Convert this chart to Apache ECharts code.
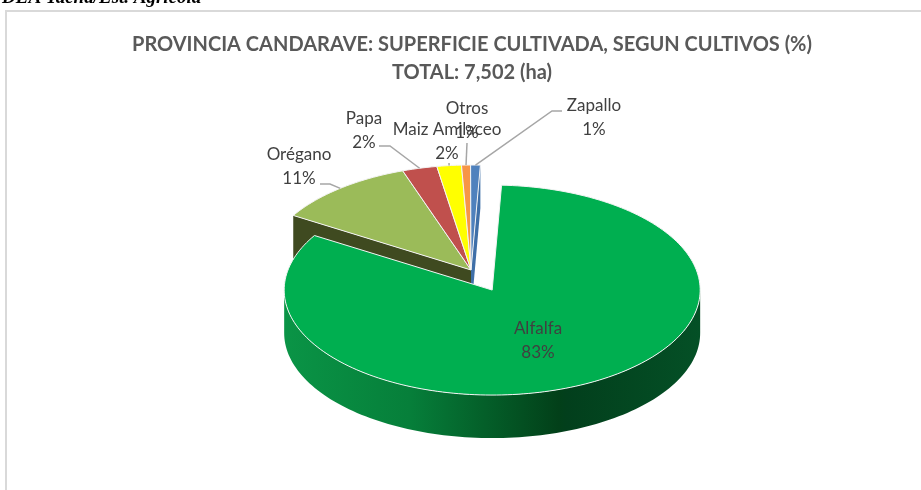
<!DOCTYPE html>
<html>
<head>
<meta charset="utf-8">
<style>
  html, body { margin: 0; padding: 0; background: #fff; }
  #chart { width: 921px; height: 490px; }
</style>
<script src="https://cdn.jsdelivr.net/npm/echarts@6/dist/echarts.min.js"></script>
</head>
<body>
<div id="chart"></div>
<script>
// drawn back to front, clockwise, so Alfalfa lands on top of the others
const categories = ['Orégano', 'Papa', 'Maiz Amilaceo', 'Otros', 'Zapallo', 'Alfalfa']
const shares = [11.0, 2.7, 1.9, 0.7, 0.75, 83.1]
const shareLabels = ['11%', '2%', '2%', '1%', '1%', '83%']
const explode = [0, 0, 0, 0, 0, 45]

const topColors = ['#9BBB59', '#C0504D', '#FFFF00', '#F79646', '#4F81BD', '#00AF50']
const sideColors = ['#3F4A20', '#5A2422', '#8A8A00', '#8A5020', '#3F6FA8', '#047A38']

// pie layout
const cx = 471
const cy = 270
const rx = 208
const ry = 105
const depth = 43
const startAngle = 301.3

// label centre and optional leader elbow points
const labelPos = [
  { x: 299, y: 155, leader: [[330, 184], [320, 184]] },
  { x: 364, y: 119, leader: [[390, 146], [379, 146]] },
  { x: 447, y: 130, leader: [[449, 163]] },
  { x: 467, y: 109, leader: [[467, 143]] },
  { x: 594, y: 106, leader: [[552, 111], [562, 111]] },
  { x: 538, y: 329, leader: null }
]

const total = shares.reduce((a, b) => a + b, 0)
const sliceAngles = []
let acc = startAngle
shares.forEach(v => {
  const span = v / total * 360
  sliceAngles.push([acc, acc + span])
  acc += span
})

// angle in degrees, clockwise from 12 o'clock
function rimPoint(a, ox, oy) {
  const t = a * Math.PI / 180
  return [ox + rx * Math.sin(t), oy - ry * Math.cos(t)]
}
function arcPoints(a0, a1, ox, oy) {
  const pts = []
  const steps = Math.max(2, Math.ceil((a1 - a0) / 1.5))
  for (let i = 0; i <= steps; i++) {
    pts.push(rimPoint(a0 + (a1 - a0) * i / steps, ox, oy))
  }
  return pts
}
function sliceOrigin(i) {
  const mid = (sliceAngles[i][0] + sliceAngles[i][1]) / 2 * Math.PI / 180
  return [cx + explode[i] * Math.sin(mid), cy - explode[i] * 0.505 * Math.cos(mid)]
}

const wallGradient = new echarts.graphic.LinearGradient(0, 0, 1, 0, [
  { offset: 0, color: '#0A9446' },
  { offset: 0.3, color: '#067F3A' },
  { offset: 0.66, color: '#024019' },
  { offset: 0.68, color: '#023F1C' },
  { offset: 1, color: '#045026' }
])

function renderSlice(params, api) {
  const i = params.dataIndex
  const [a0, a1] = sliceAngles[i]
  const [ox, oy] = sliceOrigin(i)
  const children = []

  // front wall: only the stretch between 90 and 270 degrees faces the viewer
  const turn = a0 >= 360 ? 360 : 0
  const f0 = Math.max(a0 - turn, 90)
  const f1 = Math.min(a1 - turn, 270)
  if (f1 > f0) {
    const arc = arcPoints(f0, f1, ox, oy)
    const low = arc.map(p => [p[0], p[1] + depth]).reverse()
    children.push({
      type: 'polygon',
      shape: { points: arc.concat(low) },
      style: { fill: wallGradient }
    })
  }

  // cut faces for the non exploded slices at both ends of the group
  if (categories[i] === 'Orégano' || categories[i] === 'Zapallo') {
    const edge = rimPoint(categories[i] === 'Orégano' ? a0 : a1, ox, oy)
    children.push({
      type: 'polygon',
      shape: {
        points: [[ox, oy], edge, [edge[0], edge[1] + depth], [ox, oy + depth]]
      },
      style: { fill: sideColors[i] }
    })
  }

  const top = [[ox, oy]].concat(arcPoints(a0, a1, ox, oy))
  children.push({
    type: 'polygon',
    shape: { points: top },
    style: { fill: topColors[i], stroke: '#F4F4F4', lineWidth: 1, lineJoin: 'round' }
  })
  return { type: 'group', children: children }
}

function renderLabel(params, api) {
  const i = params.dataIndex
  const pos = labelPos[i]
  const children = []
  if (pos.leader) {
    const mid = (sliceAngles[i][0] + sliceAngles[i][1]) / 2
    const start = rimPoint(mid, cx, cy)
    children.push({
      type: 'polyline',
      shape: { points: [start].concat(pos.leader) },
      style: { fill: 'none', stroke: '#A6A6A6', lineWidth: 1.5 }
    })
  }
  children.push({
    type: 'text',
    style: {
      text: categories[i] + '\n' + shareLabels[i],
      x: pos.x,
      y: pos.y - 12,
      align: 'center',
      verticalAlign: 'top',
      fill: '#404040',
      font: '17px Lato',
      lineHeight: 24
    }
  })
  return { type: 'group', children: children }
}

const chart = echarts.init(document.getElementById('chart'), null, { renderer: 'canvas' })
chart.setOption({
  animation: false,
  graphic: [
    {
      type: 'rect',
      shape: { x: 6, y: 11, width: 930, height: 500 },
      style: { fill: '#fff', stroke: '#D9D9D9', lineWidth: 2 },
      z: -1
    },
    {
      type: 'text',
      style: {
        text: 'DEA Tacna/Est. Agricola',
        x: 2,
        y: 8,
        verticalAlign: 'bottom',
        fill: '#000',
        font: 'italic bold 19px "Liberation Serif"'
      }
    }
  ],
  title: {
    text: 'PROVINCIA CANDARAVE: SUPERFICIE CULTIVADA, SEGUN CULTIVOS (%)\nTOTAL: 7,502 (ha)',
    left: 467,
    top: 26,
    textAlign: 'center',
    textStyle: {
      color: '#595959',
      fontFamily: 'Lato',
      fontWeight: 'bold',
      fontSize: 20,
      lineHeight: 28
    }
  },
  series: [
    {
      type: 'custom',
      coordinateSystem: 'none',
      renderItem: renderSlice,
      data: shares.map((v, i) => ({ name: categories[i], value: [v] }))
    },
    {
      type: 'custom',
      coordinateSystem: 'none',
      renderItem: renderLabel,
      z: 3,
      data: shares.map((v, i) => ({ name: categories[i], value: [v] }))
    }
  ]
})
</script>
</body>
</html>
